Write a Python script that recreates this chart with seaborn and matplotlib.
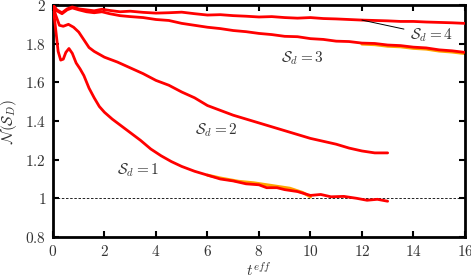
import numpy as np
import pandas as pd
import matplotlib
matplotlib.use("Agg")
import matplotlib.pyplot as plt
import seaborn as sns
from matplotlib.ticker import FuncFormatter, MultipleLocator

# ---- data ----
t1 = [0, 0.1, 0.2, 0.3, 0.4, 0.5, 0.62, 0.75, 0.9, 1.05, 1.2, 1.4, 1.6, 1.8, 2.0, 2.3, 2.6, 3.0, 3.4,
      3.8, 4.2, 4.6, 5.0, 5.5, 6.0, 6.5, 7.0, 7.5, 8.0, 8.3, 8.7, 9.0, 9.5, 10.0, 10.4, 10.8, 11.3,
      11.8, 12.2, 12.6, 13.0]
n1 = [2.0, 1.88, 1.76, 1.715, 1.72, 1.755, 1.775, 1.75, 1.70, 1.67, 1.635, 1.57, 1.52, 1.475, 1.445,
      1.41, 1.38, 1.34, 1.30, 1.255, 1.22, 1.19, 1.165, 1.14, 1.12, 1.10, 1.09, 1.075, 1.07, 1.055,
      1.055, 1.045, 1.035, 1.015, 1.02, 1.008, 1.01, 1.0, 0.99, 0.995, 0.985]
t1o = [6.0, 6.5, 7.2, 7.8, 8.5, 9.2, 9.7, 10.0]
n1o = [1.12, 1.105, 1.088, 1.08, 1.066, 1.052, 1.03, 1.008]

t2 = [0, 0.1, 0.25, 0.4, 0.6, 0.8, 1.0, 1.2, 1.4, 1.6, 1.8, 2.0, 2.5, 3.0, 3.5, 4.0, 4.5, 5.0, 5.5,
      6.0, 6.5, 7.0, 7.5, 8.0, 8.5, 9.0, 9.5, 10.0, 10.5, 11.0, 11.5, 12.0, 12.5, 13.0]
n2 = [2.0, 1.95, 1.895, 1.89, 1.90, 1.885, 1.86, 1.82, 1.78, 1.76, 1.745, 1.73, 1.705, 1.675, 1.645,
      1.61, 1.585, 1.55, 1.52, 1.48, 1.455, 1.43, 1.41, 1.39, 1.37, 1.35, 1.33, 1.31, 1.295, 1.28,
      1.26, 1.245, 1.235, 1.235]

t3 = [0, 0.15, 0.35, 0.55, 0.75, 1.0, 1.3, 1.6, 1.9, 2.2, 2.6, 3.0, 3.5, 4.0, 4.5, 5.0, 5.5, 6.0, 6.5,
      7.0, 7.5, 8.0, 8.5, 9.0, 9.5, 10.0, 10.5, 11.0, 11.5, 12.0, 12.5, 13.0, 13.5, 14.0, 14.5, 15.0,
      15.5, 16.0]
n3 = [2.0, 1.97, 1.955, 1.975, 1.985, 1.975, 1.965, 1.96, 1.965, 1.955, 1.945, 1.94, 1.935, 1.925,
      1.92, 1.905, 1.895, 1.885, 1.878, 1.868, 1.862, 1.853, 1.847, 1.838, 1.836, 1.826, 1.822, 1.813,
      1.811, 1.803, 1.801, 1.793, 1.79, 1.782, 1.778, 1.768, 1.763, 1.755]
t3o = [12.0, 12.5, 13.0, 13.5, 14.0, 14.5, 15.0, 15.5, 16.0]
n3o = [1.798, 1.795, 1.787, 1.784, 1.776, 1.772, 1.762, 1.757, 1.749]

t4 = [0, 0.15, 0.35, 0.55, 0.75, 1.0, 1.3, 1.6, 1.9, 2.2, 2.6, 3.0, 3.5, 4.0, 4.5, 5.0, 5.5, 6.0, 6.5,
      7.0, 7.5, 8.0, 8.5, 9.0, 9.5, 10.0, 10.5, 11.0, 11.5, 12.0, 12.5, 13.0, 13.5, 14.0, 14.5, 15.0,
      15.5, 16.0]
n4 = [2.0, 1.975, 1.96, 1.98, 1.99, 1.98, 1.975, 1.97, 1.978, 1.972, 1.965, 1.968, 1.962, 1.958,
      1.96, 1.963, 1.955, 1.948, 1.95, 1.945, 1.942, 1.938, 1.94, 1.935, 1.932, 1.935, 1.93, 1.928,
      1.925, 1.922, 1.92, 1.918, 1.915, 1.915, 1.912, 1.91, 1.908, 1.905]

labels = [r"$\mathcal{S}_d=1$", r"$\mathcal{S}_d=2$", r"$\mathcal{S}_d=3$", r"$\mathcal{S}_d=4$"]
xticks = [0, 2, 4, 6, 8, 10, 12, 14, 16]
yticks = [0.8, 1.0, 1.2, 1.4, 1.6, 1.8, 2.0]

# ---- style ----
sns.set_theme(style="ticks")
plt.rcParams["mathtext.fontset"] = "cm"
plt.rcParams["font.family"] = ["DejaVu Serif"]
plt.rcParams["xtick.direction"] = "in"
plt.rcParams["ytick.direction"] = "in"

fig = plt.figure(figsize=(4.71, 2.78), dpi=100)
ax = fig.add_axes([0.1125, 0.1475, 0.8745, 0.8345])

ax.axhline(1.0, color="black", lw=0.6, ls=(0, (3, 2)), zorder=1)

orange = "#ffa500"
red = "#ff0000"
for tt, nn in [(t1o, n1o), (t3o, n3o)]:
    sns.lineplot(x=tt, y=nn, ax=ax, color=orange, lw=2.2, sort=False, zorder=2)
for tt, nn in [(t1, n1), (t2, n2), (t3, n3), (t4, n4)]:
    sns.lineplot(x=tt, y=nn, ax=ax, color=red, lw=2.0, sort=False, zorder=3)

ax.set_xlim(0, 16)
ax.set_ylim(0.8, 2.0)
ax.set_xticks(xticks)
ax.set_yticks(yticks)
ax.xaxis.set_major_formatter(FuncFormatter(lambda v, p: f"${v:g}$"))
ax.yaxis.set_major_formatter(FuncFormatter(lambda v, p: f"${v:g}$"))
ax.tick_params(which="both", top=True, right=True, length=4, width=1.5,
               labelsize=11, colors="black", labelcolor="#333333", pad=5)
for s in ax.spines.values():
    s.set_linewidth(2)
    s.set_color("black")

ax.set_xlabel(r"$t^{eff}$", fontsize=11, color="#333333", labelpad=2)
ax.set_ylabel(r"$\mathcal{N}(\mathcal{S}_D)$", fontsize=11, color="#333333", labelpad=4)

tc = "#333333"
ax.text(3.3, 1.146, labels[0], fontsize=11, color=tc, ha="center", va="center")
ax.text(6.33, 1.353, labels[1], fontsize=11, color=tc, ha="center", va="center")
ax.text(9.67, 1.726, labels[2], fontsize=11, color=tc, ha="center", va="center")
ax.annotate(labels[3], xy=(12.0, 1.922), xytext=(14.7, 1.845), fontsize=11, color=tc,
            ha="center", va="center",
            arrowprops=dict(arrowstyle="-", color="black", lw=0.7, shrinkA=2, shrinkB=0))

fig.savefig("out.png", dpi=100)
